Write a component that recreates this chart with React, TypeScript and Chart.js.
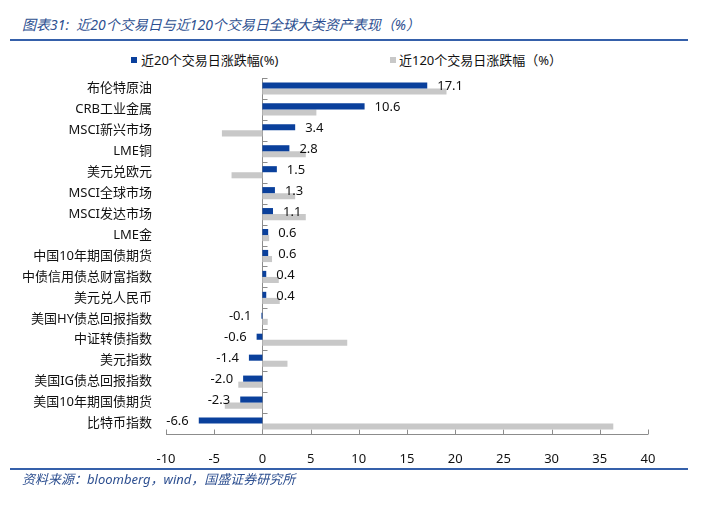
import React, { useEffect, useRef } from "react";
import { Chart, registerables } from "chart.js";

Chart.register(...registerables);

const categories: string[] = [
  "布伦特原油",
  "CRB工业金属",
  "MSCI新兴市场",
  "LME铜",
  "美元兑欧元",
  "MSCI全球市场",
  "MSCI发达市场",
  "LME金",
  "中国10年期国债期货",
  "中债信用债总财富指数",
  "美元兑人民币",
  "美国HY债总回报指数",
  "中证转债指数",
  "美元指数",
  "美国IG债总回报指数",
  "美国10年期国债期货",
  "比特币指数",
];

const change20: number[] = [17.1, 10.6, 3.4, 2.8, 1.5, 1.3, 1.1, 0.6, 0.6, 0.4, 0.4, -0.1, -0.6, -1.4, -2.0, -2.3, -6.6];
const change120: number[] = [19.1, 5.6, -4.2, 4.5, -3.2, 3.4, 4.5, 0.7, 1.0, 1.7, 1.8, 0.55, 8.8, 2.6, -2.5, -3.9, 36.4];

const series20Label = "近20个交易日涨跌幅(%)";
const series120Label = "近120个交易日涨跌幅（%）";
const titleText = "图表31:  近20个交易日与近120个交易日全球大类资产表现（%）";
const sourceText = "资料来源：bloomberg，wind，国盛证券研究所";

const xMin = -10;
const xMax = 40;
const xStep = 5;

const BLUE = "#0A409C";
const GRAY = "#C8C8C8";
const AXIS = "#8C8C8C";
const FONT = "'Noto Sans', 'Noto Sans CJK SC', sans-serif";

const decorPlugin = {
  id: "decor",
  beforeDatasetsDraw(chart: any) {
    const { ctx, chartArea, scales } = chart;
    const x = scales.x;
    ctx.save();
    ctx.strokeStyle = AXIS;
    ctx.lineWidth = 1;
    const by = Math.round(chartArea.bottom) + 0.5;
    ctx.beginPath();
    ctx.moveTo(chartArea.left, by);
    ctx.lineTo(chartArea.right, by);
    ctx.stroke();
    for (let v = xMin; v <= xMax; v += xStep) {
      const px = Math.round(x.getPixelForValue(v)) + 0.5;
      ctx.beginPath();
      ctx.moveTo(px, by);
      ctx.lineTo(px, by - 5);
      ctx.stroke();
    }
    const zx = Math.round(x.getPixelForValue(0)) + 0.5;
    ctx.beginPath();
    ctx.moveTo(zx, chartArea.top);
    ctx.lineTo(zx, chartArea.bottom);
    ctx.stroke();
    const n = categories.length;
    const band = (chartArea.bottom - chartArea.top) / n;
    for (let i = 0; i <= n; i++) {
      const py = Math.round(chartArea.top + band * i) + 0.5;
      ctx.beginPath();
      ctx.moveTo(zx, py);
      ctx.lineTo(zx + 5, py);
      ctx.stroke();
    }
    ctx.restore();
  },
  afterDatasetsDraw(chart: any) {
    const { ctx } = chart;
    const meta = chart.getDatasetMeta(0);
    ctx.save();
    ctx.font = `13px ${FONT}`;
    ctx.fillStyle = "#111111";
    ctx.textBaseline = "middle";
    meta.data.forEach((el: any, i: number) => {
      const v = change20[i];
      const txt = v.toFixed(1);
      if (v >= 0) {
        ctx.textAlign = "left";
        ctx.fillText(txt, el.x + 10, el.y + 1);
      } else {
        ctx.textAlign = "right";
        ctx.fillText(txt, el.x - 10, el.y + 1);
      }
    });
    ctx.restore();
  },
};

export default function App() {
  const ref = useRef<HTMLCanvasElement | null>(null);

  useEffect(() => {
    if (!ref.current) return;
    const chart = new Chart(ref.current, {
      type: "bar",
      data: {
        labels: categories,
        datasets: [
          {
            label: series20Label,
            data: change20,
            backgroundColor: BLUE,
            categoryPercentage: 0.58,
            barPercentage: 1.0,
          },
          {
            label: series120Label,
            data: change120,
            backgroundColor: GRAY,
            categoryPercentage: 0.58,
            barPercentage: 1.0,
          },
        ],
      },
      options: {
        indexAxis: "y",
        animation: false,
        responsive: false,
        layout: { padding: { top: 78, right: 73, bottom: 47, left: 0 } },
        plugins: {
          legend: { display: false },
          tooltip: { enabled: false },
        },
        scales: {
          x: {
            type: "linear",
            min: xMin,
            max: xMax,
            ticks: {
              stepSize: xStep,
              padding: 9,
              color: "#111111",
              font: { size: 13, family: FONT },
            },
            grid: { display: false },
            border: { display: false },
            afterFit: (s: any) => {
              s.height = 30;
            },
          },
          y: {
            type: "category",
            ticks: {
              padding: 6,
              color: "#111111",
              font: { size: 13, family: FONT },
              autoSkip: false,
            },
            grid: { display: false },
            border: { display: false },
            afterFit: (s: any) => {
              s.width = 166;
            },
          },
        },
      },
      plugins: [decorPlugin],
    } as any);
    return () => chart.destroy();
  }, []);

  const abs = (o: React.CSSProperties): React.CSSProperties => ({ position: "absolute", ...o });

  return (
    <div style={abs({ left: 0, top: 0, width: 721, height: 511, background: "#fff", overflow: "hidden", fontFamily: FONT })}>
      <div
        style={abs({
          left: 22,
          top: 15,
          height: 20,
          lineHeight: "20px",
          fontSize: 14,
          fontStyle: "italic",
          color: "#2D4F90",
          whiteSpace: "pre",
        })}
      >
        {titleText}
      </div>
      <div style={abs({ left: 10, top: 39, width: 678, height: 2, background: "#3560AA" })} />
      <div style={abs({ left: 131, top: 57, width: 6, height: 6, background: BLUE })} />
      <div style={abs({ left: 141, top: 50, height: 20, lineHeight: "20px", fontSize: 13, color: "#111", whiteSpace: "pre" })}>
        {series20Label}
      </div>
      <div style={abs({ left: 390, top: 57, width: 6, height: 6, background: GRAY })} />
      <div style={abs({ left: 399, top: 50, height: 20, lineHeight: "20px", fontSize: 13, color: "#111", whiteSpace: "pre" })}>
        {series120Label}
      </div>
      <canvas ref={ref} width={721} height={511} style={abs({ left: 0, top: 0, width: 721, height: 511 })} />
      <div style={abs({ left: 10, top: 468, width: 678, height: 2, background: "#3560AA" })} />
      <div
        style={abs({
          left: 22,
          top: 469,
          height: 20,
          lineHeight: "20px",
          fontSize: 13,
          fontStyle: "italic",
          color: "#2D4F90",
          whiteSpace: "pre",
        })}
      >
        {sourceText}
      </div>
    </div>
  );
}
